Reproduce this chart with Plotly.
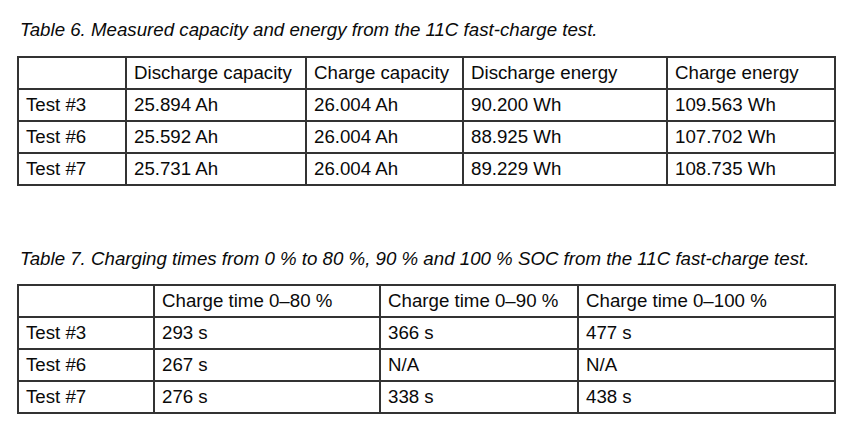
import plotly.graph_objects as go

# Table 6 data
t6_header = ['', 'Discharge capacity', 'Charge capacity', 'Discharge energy', 'Charge energy']
t6_tests = ['Test #3', 'Test #6', 'Test #7']
t6_dis_cap = ['25.894 Ah', '25.592 Ah', '25.731 Ah']
t6_chg_cap = ['26.004 Ah', '26.004 Ah', '26.004 Ah']
t6_dis_energy = ['90.200 Wh', '88.925 Wh', '89.229 Wh']
t6_chg_energy = ['109.563 Wh', '107.702 Wh', '108.735 Wh']

# Table 7 data
t7_header = ['', 'Charge time 0\u201380 %', 'Charge time 0\u201390 %', 'Charge time 0\u2013100 %']
t7_tests = ['Test #3', 'Test #6', 'Test #7']
t7_80 = ['293 s', '267 s', '276 s']
t7_90 = ['366 s', 'N/A', '338 s']
t7_100 = ['477 s', 'N/A', '438 s']

cap6 = 'Table 6. Measured capacity and energy from the 11C fast-charge test.'
cap7 = 'Table 7. Charging times from 0 % to 80 %, 90 % and 100 % SOC from the 11C fast-charge test.'

# page body has an 8px margin, so the figure is a bit smaller and coords shifted
OFF = 8
W, H = 865 - OFF, 438 - OFF
FONT = 'Liberation Sans, Arial, sans-serif'
LINE = '#333333'
SIZE = 18.7


def px(x):
    return (x - OFF) / W


def py(y):
    return 1 - (y - OFF) / H


def make_table(header, cols, widths, y0, y1):
    return go.Table(
        domain=dict(x=[px(18), px(836)], y=[py(y1), py(y0)]),
        columnwidth=widths,
        header=dict(values=header, height=32, align='left', fill_color='white',
                    line=dict(color=LINE, width=1.4),
                    font=dict(family=FONT, size=SIZE, color='#0a0a0a')),
        cells=dict(values=cols, height=32, align='left', fill_color='white',
                   line=dict(color=LINE, width=1.4),
                   font=dict(family=FONT, size=SIZE, color='#0a0a0a')),
    )


fig = go.Figure()
fig.add_trace(make_table(t6_header,
                         [t6_tests, t6_dis_cap, t6_chg_cap, t6_dis_energy, t6_chg_energy],
                         [108, 180, 157, 204, 168], 57, 187))
fig.add_trace(make_table(t7_header,
                         [t7_tests, t7_80, t7_90, t7_100],
                         [136, 226, 198, 257], 285, 415))

fig.add_annotation(x=px(18), y=py(30), xref='paper', yref='paper', xanchor='left', yanchor='middle',
                   text='<i>' + cap6 + '</i>', showarrow=False,
                   font=dict(family=FONT, size=SIZE, color='#0a0a0a'))
fig.add_annotation(x=px(18), y=py(258), xref='paper', yref='paper', xanchor='left', yanchor='middle',
                   text='<i>' + cap7 + '</i>', showarrow=False,
                   font=dict(family=FONT, size=SIZE, color='#0a0a0a'))

fig.update_layout(width=W, height=H, margin=dict(l=0, r=0, t=0, b=0),
                  paper_bgcolor='white', plot_bgcolor='white')

fig.write_html('out.html')
